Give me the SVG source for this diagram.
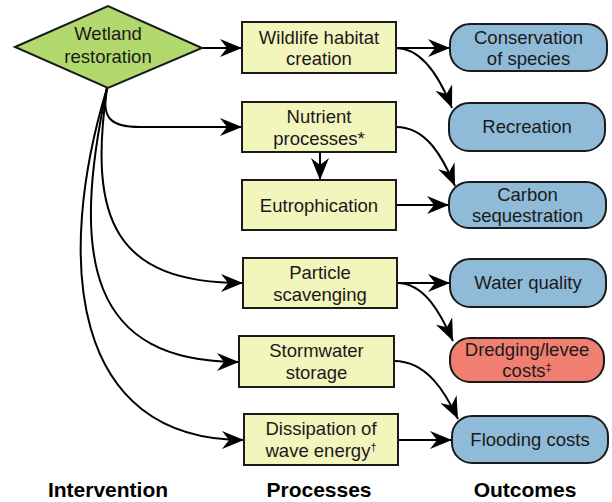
<svg xmlns="http://www.w3.org/2000/svg" width="612" height="502" viewBox="0 0 612 502">
<style>
text{font-family:"Liberation Sans",Arial,Helvetica,sans-serif;font-size:18.5px;fill:#1a1a1a;text-anchor:middle}
.proc{fill:#f2f5bc;stroke:#1a1a1a;stroke-width:2}
.out{fill:#8fbbd8;stroke:#1a1a1a;stroke-width:2}
.red{fill:#f07f71;stroke:#1a1a1a;stroke-width:2}
.dia{fill:#b2d96d;stroke:#1a1a1a;stroke-width:2}
.edge{fill:none;stroke:#000;stroke-width:2;marker-end:url(#ah)}
.title{font-weight:bold;font-size:21px;fill:#000}
</style>
<defs>
<marker id="ah" markerUnits="userSpaceOnUse" markerWidth="22" markerHeight="18" refX="22" refY="9" orient="auto">
<path d="M0,0 L22,9 L0,18 L7,9 Z" fill="#000"/>
</marker>
</defs>
<g id="connectors">
<path class="edge" d="M202,48 L242,48"/>
<path class="edge" d="M107,88 C101,118 110,127 140,127 L242,127"/>
<path class="edge" d="M107,88 C88,220 115,283 243,283"/>
<path class="edge" d="M107,88 C70,260 90,362 239,362"/>
<path class="edge" d="M107,88 C55,260 70,440 244,440"/>
<path class="edge" d="M396,48 L450,48"/>
<path class="edge" d="M396,48 C422,48 440,78 452,108"/>
<path class="edge" d="M396,127 C427,127 443,158 455,186"/>
<path class="edge" d="M320,152 L320,180"/>
<path class="edge" d="M396,205 L449,205"/>
<path class="edge" d="M397,283 L450,283"/>
<path class="edge" d="M397,283 C424,283 440,312 453,341"/>
<path class="edge" d="M394,361 C427,361 445,392 458,419"/>
<path class="edge" d="M398,440 L452,440"/>
</g>
<g id="wetland">
<polygon class="dia" points="15,47 108,6 202,48 108,88"/>
<text x="108" y="39.5">Wetland</text>
<text x="108" y="62.5">restoration</text>
</g>
<g id="wildlife">
<rect class="proc" x="242" y="22" width="154" height="51"/>
<text x="319" y="43.5">Wildlife habitat</text>
<text x="319" y="65">creation</text>
</g>
<g id="nutrient">
<rect class="proc" x="242" y="102" width="154" height="50"/>
<text x="319" y="123">Nutrient</text>
<text x="319" y="144.5">processes*</text>
</g>
<g id="eutrophication">
<rect class="proc" x="242" y="180" width="154" height="50"/>
<text x="319" y="211.5">Eutrophication</text>
</g>
<g id="particle">
<rect class="proc" x="243" y="258" width="154" height="50"/>
<text x="320" y="279">Particle</text>
<text x="320" y="300.5">scavenging</text>
</g>
<g id="stormwater">
<rect class="proc" x="239" y="336" width="155" height="51"/>
<text x="316.5" y="357">Stormwater</text>
<text x="316.5" y="378.5">storage</text>
</g>
<g id="dissipation">
<rect class="proc" x="244" y="414" width="154" height="51"/>
<text x="321" y="435">Dissipation of</text>
<text x="321" y="456.5">wave energy<tspan dy="-6" font-size="11">†</tspan></text>
</g>
<g id="conservation">
<rect class="out" x="450" y="24" width="157" height="47" rx="20"/>
<text x="528.5" y="44">Conservation</text>
<text x="528.5" y="65">of species</text>
</g>
<g id="recreation">
<rect class="out" x="449" y="103" width="156" height="48" rx="20"/>
<text x="527" y="133">Recreation</text>
</g>
<g id="carbon">
<rect class="out" x="449" y="182" width="157" height="46" rx="20"/>
<text x="527.5" y="200.5">Carbon</text>
<text x="527.5" y="222">sequestration</text>
</g>
<g id="water">
<rect class="out" x="450" y="259" width="156" height="48" rx="20"/>
<text x="528" y="289">Water quality</text>
</g>
<g id="dredging">
<rect class="red" x="450" y="338" width="154" height="44" rx="20"/>
<text x="527" y="356">Dredging/levee</text>
<text x="527" y="377">costs<tspan dy="-6" font-size="11">‡</tspan></text>
</g>
<g id="flooding">
<rect class="out" x="452" y="416" width="156" height="47" rx="20"/>
<text x="530" y="446">Flooding costs</text>
</g>
<g id="labels">
<text class="title" x="108" y="497">Intervention</text>
<text class="title" x="319" y="497">Processes</text>
<text class="title" x="525" y="497">Outcomes</text>
</g>
</svg>
